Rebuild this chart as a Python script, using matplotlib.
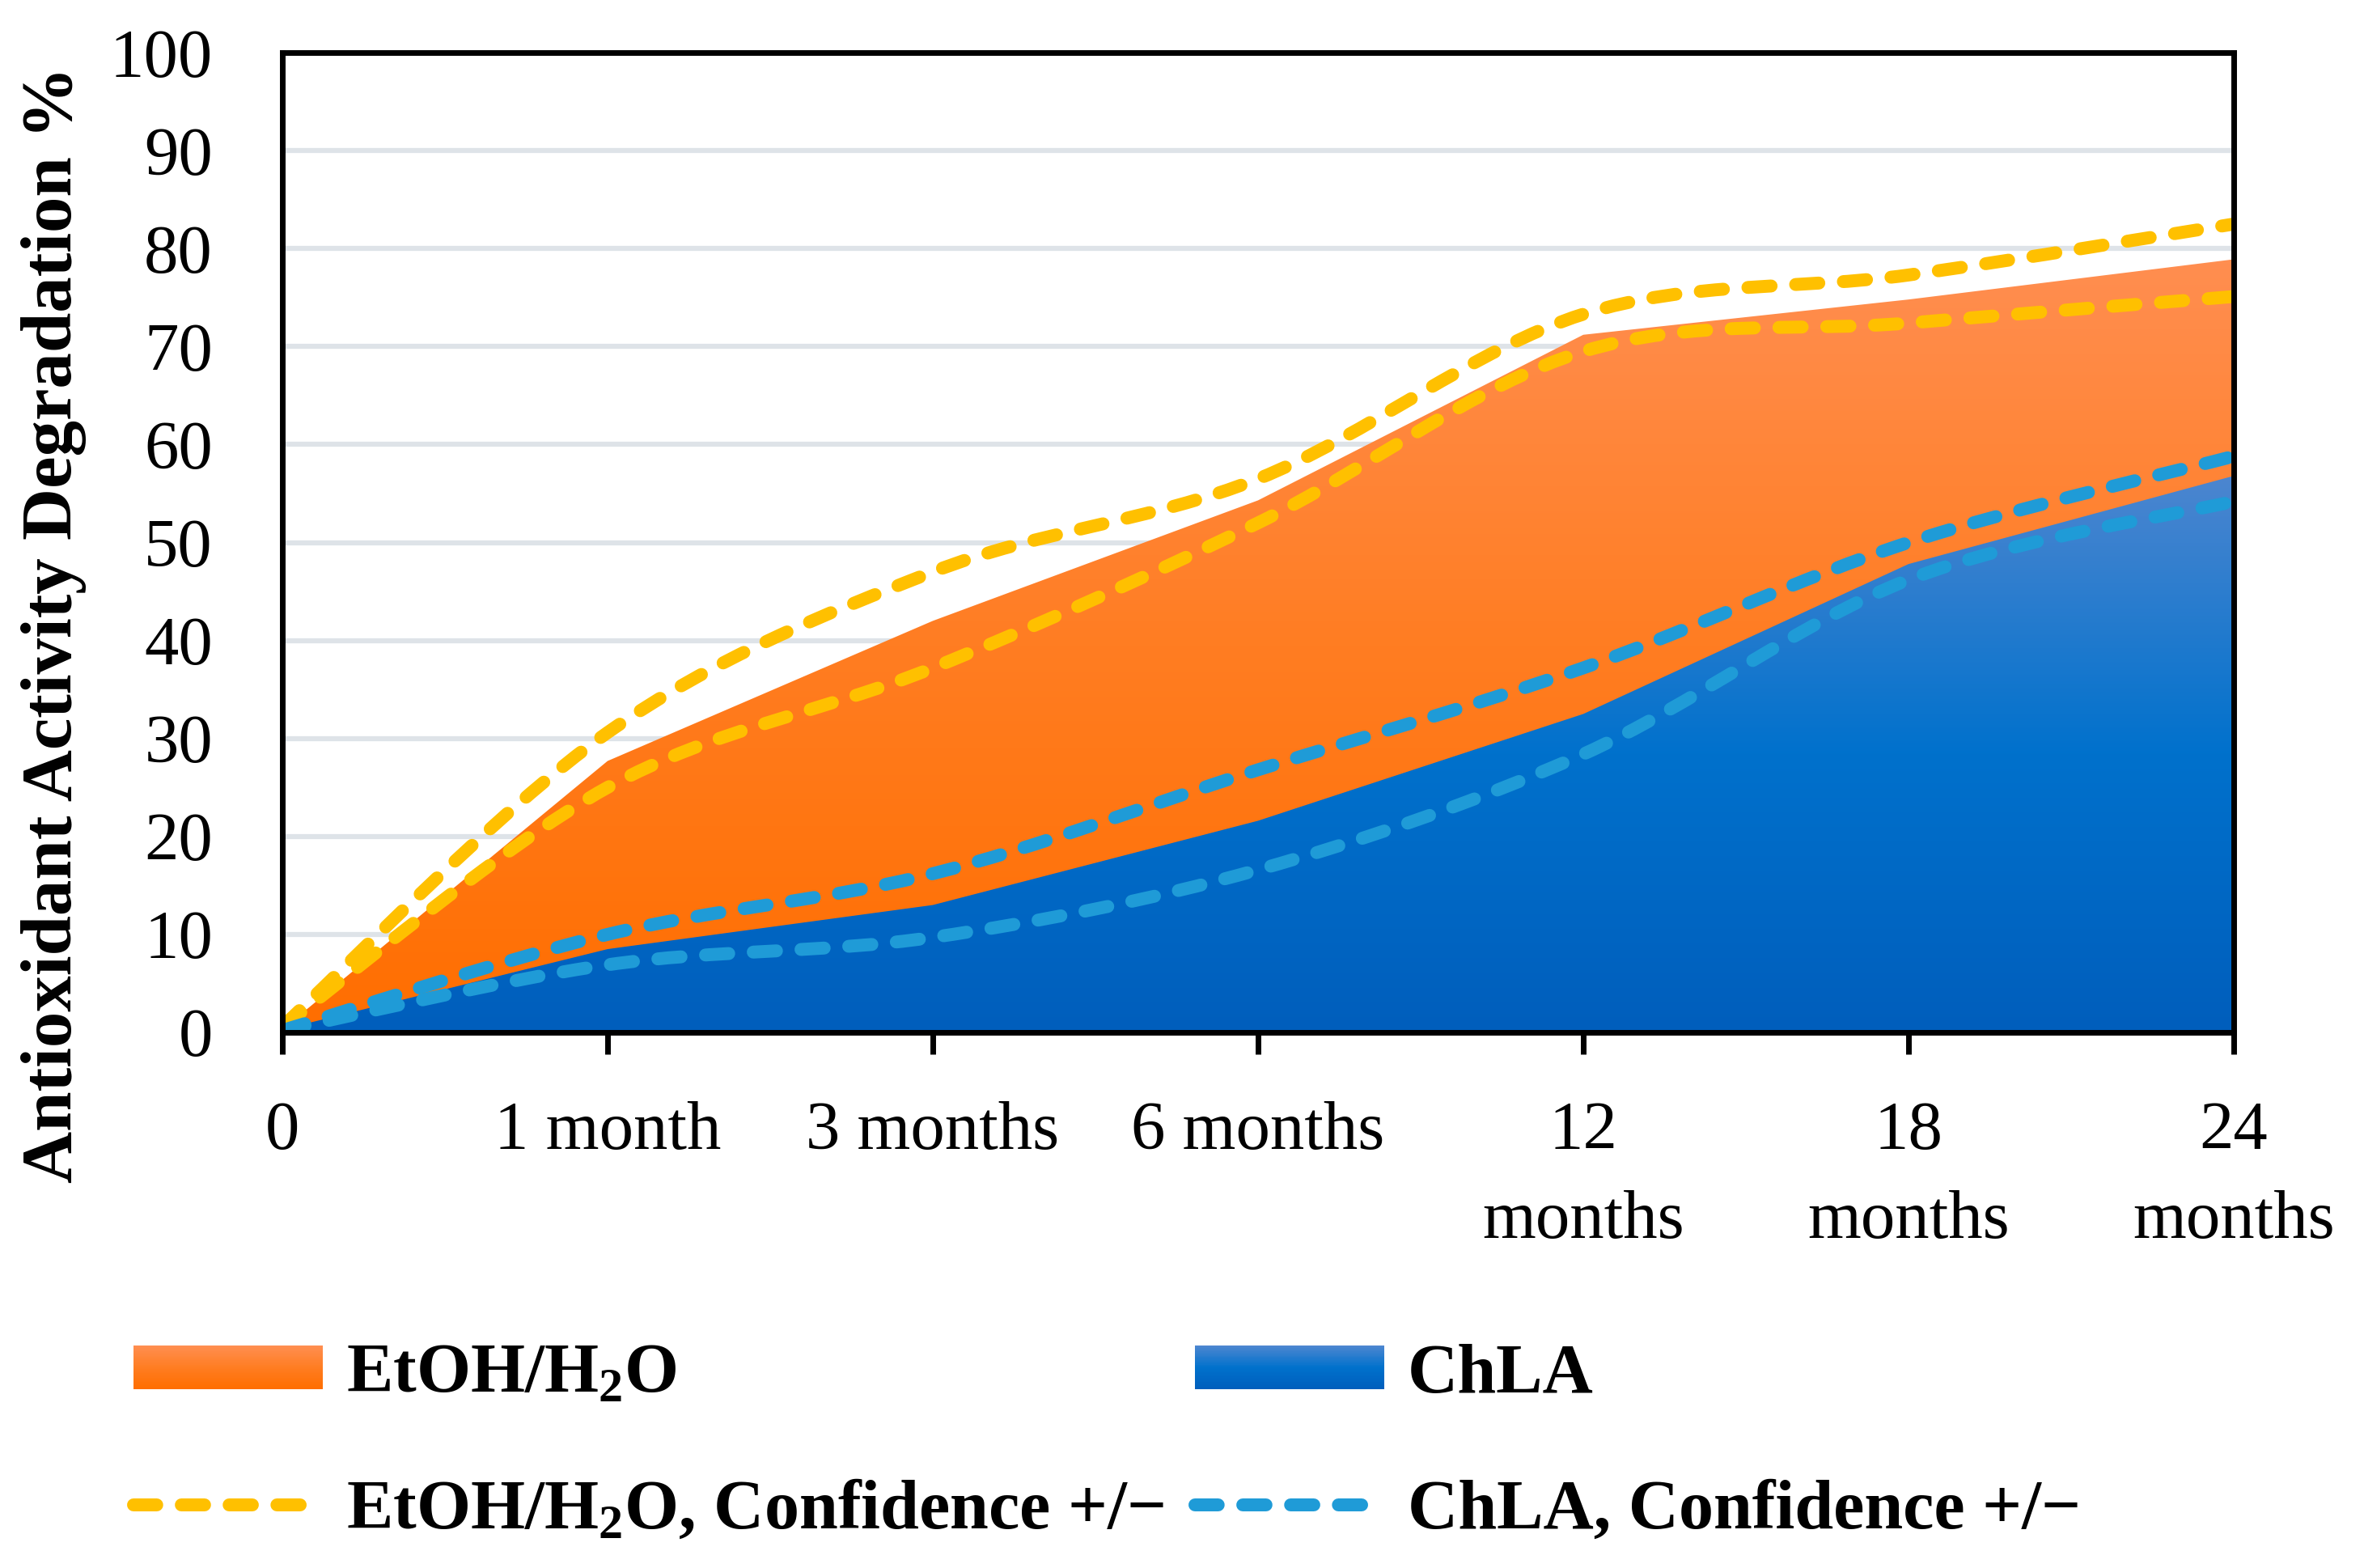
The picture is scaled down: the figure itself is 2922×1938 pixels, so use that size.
import numpy as np
import matplotlib
matplotlib.use('Agg')
from matplotlib import pyplot as plt
from matplotlib.colors import LinearSegmentedColormap
from matplotlib.patches import Polygon, Rectangle, PathPatch
from matplotlib.path import Path
from matplotlib.lines import Line2D
from matplotlib.legend_handler import HandlerBase

plt.rcParams['font.family'] = ['Liberation Serif', 'DejaVu Serif']
plt.rcParams['mathtext.default'] = 'regular'

# data
periods = ['0', '1 month', '3 months', '6 months', '12\nmonths', '18\nmonths', '24\nmonths']
etoh = [0.3, 27.7, 42.0, 54.3, 71.2, 74.8, 78.9]
chla = [0.3, 8.5, 13.0, 21.6, 32.5, 47.8, 56.8]
etoh_upper = [0.6, 30.6, 47.0, 56.5, 73.3, 77.3, 82.5]
etoh_lower = [0.6, 25.0, 37.2, 52.0, 69.5, 72.4, 75.1]
chla_upper = [0.2, 10.0, 16.2, 26.8, 37.2, 50.0, 58.8]
chla_lower = [0.2, 6.9, 9.7, 16.6, 28.4, 46.2, 54.2]
yticks = list(range(0, 101, 10))

orange_cmap = LinearSegmentedColormap.from_list('orange', ['#FF6E00', '#FF7D22', '#FF8E50'])
blue_cmap = LinearSegmentedColormap.from_list('blue', ['#005EBC', '#0071CC', '#4C86D0'])
yellow = '#FFC000'
lightblue = '#1F9BD7'
FS = 61
LW = 11.5
DASH = (0, (1.8, 1.9))


def gradient_area(ax, x, y, cmap, z):
    verts = [(x[0], 0)] + list(zip(x, y)) + [(x[-1], 0)]
    clip = Polygon(verts, closed=True, fc='none', ec='none', transform=ax.transData)
    ax.add_patch(clip)
    grad = np.linspace(0, 1, 256).reshape(-1, 1)
    im = ax.imshow(grad, cmap=cmap, aspect='auto', origin='lower',
                   extent=(x[0], x[-1], 0, max(y)), zorder=z, interpolation='bilinear')
    im.set_clip_path(clip)


def smooth_line(ax, x, y, color, z):
    # bezier through the points, like the spreadsheet "smoothed line"
    pts = np.column_stack([x, y]).astype(float)
    n = len(pts)
    verts = [pts[0]]
    codes = [Path.MOVETO]
    for i in range(n - 1):
        p0 = pts[i - 1] if i > 0 else pts[i]
        p1, p2 = pts[i], pts[i + 1]
        p3 = pts[i + 2] if i + 2 < n else pts[i + 1]
        c1 = p1 + (p2 - p0) / 6.0
        c2 = p2 - (p3 - p1) / 6.0
        verts += [c1, c2, p2]
        codes += [Path.CURVE4] * 3
    pp = PathPatch(Path(verts, codes), fc='none', ec=color, lw=LW,
                   linestyle=DASH, capstyle='round', zorder=z)
    ax.add_patch(pp)


class GradHandler(HandlerBase):
    def __init__(self, cmap):
        super().__init__()
        self.cmap = cmap

    def create_artists(self, legend, orig_handle, xdescent, ydescent, width, height, fontsize, trans):
        arts = []
        n = 30
        for i in range(n):
            r = Rectangle((-xdescent, -ydescent + height * i / n), width, height / n * 1.1,
                          fc=self.cmap(i / (n - 1)), ec='none', transform=trans)
            arts.append(r)
        return arts


fig = plt.figure(figsize=(29.22, 19.38), dpi=100)
ax = fig.add_axes([349 / 2922, 1 - 1276 / 1938, (2761 - 349) / 2922, (1276 - 65) / 1938])

x = np.arange(len(periods))
gradient_area(ax, x, etoh, orange_cmap, 1)
gradient_area(ax, x, chla, blue_cmap, 1.1)
smooth_line(ax, x, etoh_upper, yellow, 2)
smooth_line(ax, x, etoh_lower, yellow, 2)
smooth_line(ax, x, chla_upper, lightblue, 2.1)
smooth_line(ax, x, chla_lower, lightblue, 2.1)

ax.set_xlim(0, len(periods) - 1)
ax.set_ylim(0, 100)
ax.set_yticks(yticks)
ax.set_xticks(x, labels=periods, linespacing=1.55)
ax.yaxis.grid(True, color='#DEE3E8', lw=4.5, zorder=0.5)
ax.set_axisbelow(True)
ax.tick_params(axis='y', length=0, pad=62, labelsize=FS)
ax.tick_params(axis='x', length=19.5, width=5, pad=42, labelsize=FS, direction='out')
for s in ax.spines.values():
    s.set_linewidth(5)
    s.set_zorder(3)

fig.text(67 / 2922, 1 - 772 / 1938, 'Antioxidant Activity Degradation %', rotation=90,
         ha='center', va='center', fontsize=64, fontweight='bold')

# legend, one entry at a time so the columns sit where the reference has them
p_etoh = Rectangle((0, 0), 1, 1)
p_chla = Rectangle((0, 0), 1, 1)
l_etoh = Line2D([], [], color=yellow, lw=LW, linestyle=DASH, dash_capstyle='round')
l_chla = Line2D([], [], color=lightblue, lw=LW, linestyle=DASH, dash_capstyle='round')
entries = [
    (p_etoh, 'EtOH/H$_2$O', 165, 1700),
    (p_chla, 'ChLA', 1477, 1700),
    (l_etoh, 'EtOH/H$_2$O, Confidence +/\u2212', 165, 1868),
    (l_chla, 'ChLA, Confidence +/\u2212', 1477, 1868),
]
for h, lab, px, py in entries:
    leg = fig.legend([h], [lab], loc='center left', bbox_to_anchor=(px / 2922, 1 - py / 1938),
                     frameon=False, borderpad=0, borderaxespad=0, handlelength=2.72,
                     handleheight=0.6, handletextpad=0.33,
                     prop={'size': 62, 'weight': 'bold', 'family': 'Liberation Serif'},
                     handler_map={p_etoh: GradHandler(orange_cmap), p_chla: GradHandler(blue_cmap)})

fig.savefig('out.png', dpi=100)
